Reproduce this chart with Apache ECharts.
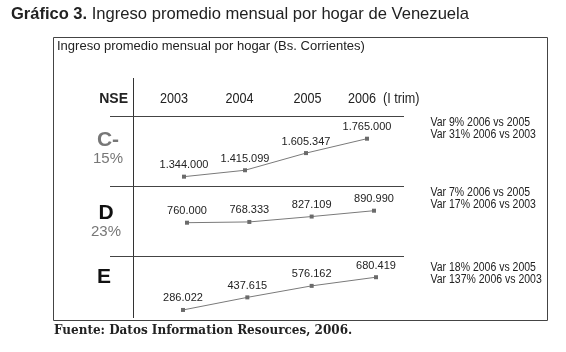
<!DOCTYPE html>
<html>
<head>
<meta charset="utf-8">
<script src="https://cdn.jsdelivr.net/npm/echarts@6/dist/echarts.min.js"></script>
<style>
  html, body { margin: 0; padding: 0; background: #fff; }
  #main { width: 566px; height: 352px; }
</style>
</head>
<body>
<div id="main"></div>
<script>
// datos
var years = ['2003', '2004', '2005', '2006'];
var yearLabels = ['2003', '2004', '2005', '2006  (I trim)'];
var nseNames = ['C-', 'D', 'E'];
var nseShare = ['15%', '23%', ''];
var ingresoC = [1344000, 1415099, 1605347, 1765000];
var ingresoD = [760000, 768333, 827109, 890990];
var ingresoE = [286022, 437615, 576162, 680419];
var varC = ['Var 9% 2006 vs 2005', 'Var 31% 2006 vs 2003'];
var varD = ['Var 7% 2006 vs 2005', 'Var 17% 2006 vs 2003'];
var varE = ['Var 18% 2006 vs 2005', 'Var 137% 2006 vs 2003'];

var SANS = '"Liberation Sans", Arial, sans-serif';

function fmt(v) {
    return String(v).replace(/\B(?=(\d{3})+(?!\d))/g, '.');
}

var myChart = echarts.init(document.getElementById('main'));

var grids = [
    {left: 184, width: 183, top: 116.5, height: 70},
    {left: 187, width: 187, top: 186.5, height: 70},
    {left: 183, width: 193, top: 256.5, height: 64}
];
var yRanges = [[1235000, 2011000], [391000, 1155200], [159000, 930000]];
var seriesData = [ingresoC, ingresoD, ingresoE];

var xAxes = [], yAxes = [], series = [];
for (var i = 0; i < 3; i++) {
    xAxes.push({type: 'category', gridIndex: i, data: years, boundaryGap: false, show: false});
    yAxes.push({type: 'value', gridIndex: i, min: yRanges[i][0], max: yRanges[i][1], show: false});
    series.push({
        name: nseNames[i],
        type: 'line',
        xAxisIndex: i,
        yAxisIndex: i,
        data: seriesData[i],
        symbol: 'rect',
        symbolSize: 4,
        itemStyle: {color: '#6b6b6b'},
        lineStyle: {color: '#7a7a7a', width: 1},
        label: {
            show: true,
            position: 'top',
            distance: 4,
            color: '#222',
            fontSize: 11,
            fontFamily: SANS,
            formatter: function (p) { return fmt(p.value); }
        },
        animation: false
    });
}

var graphics = [];
// titulo
graphics.push({
    type: 'text', left: 11, top: 6,
    style: {
        text: '{b|Gráfico 3.}{n| Ingreso promedio mensual por hogar de Venezuela}',
        rich: {
            b: {fontWeight: 'bold', fontSize: 16.5, fontFamily: SANS, fill: '#222'},
            n: {fontSize: 16.6, fontFamily: SANS, fill: '#222'}
        }
    }
});
// recuadro
graphics.push({
    type: 'rect', shape: {x: 53.5, y: 37.5, width: 494, height: 283},
    style: {fill: 'none', stroke: '#444', lineWidth: 1}
});
graphics.push({
    type: 'text', left: 57, top: 40,
    style: {text: 'Ingreso promedio mensual por hogar (Bs. Corrientes)', fontSize: 13, fontFamily: SANS, fill: '#222'}
});
// lineas de la tabla
graphics.push({type: 'line', shape: {x1: 133.5, y1: 78, x2: 133.5, y2: 318}, style: {stroke: '#333', lineWidth: 1}});
[116.5, 186.5, 256.5].forEach(function (y) {
    graphics.push({type: 'line', shape: {x1: 110, y1: y, x2: 404, y2: y}, style: {stroke: '#444', lineWidth: 1}});
});
// encabezado
graphics.push({
    type: 'text', x: 128, y: 99,
    style: {text: 'NSE', fontSize: 14, fontWeight: 'bold', fontFamily: SANS, fill: '#222', align: 'right', verticalAlign: 'middle'}
});
var headX = [174, 239.5, 307.5, 348];
yearLabels.forEach(function (t, k) {
    graphics.push({
        type: 'text', x: headX[k], y: 99, scaleX: 0.9,
        style: {text: t, fontSize: 14, fontFamily: SANS, fill: '#222', align: k < 3 ? 'center' : 'left', verticalAlign: 'middle'}
    });
});
// NSE
graphics.push({type: 'text', x: 108, y: 140, style: {text: nseNames[0], fontSize: 21, fontWeight: 'bold', fontFamily: SANS, fill: '#777', align: 'center', verticalAlign: 'middle'}});
graphics.push({type: 'text', x: 108, y: 159, style: {text: nseShare[0], fontSize: 15, fontFamily: SANS, fill: '#777', align: 'center', verticalAlign: 'middle'}});
graphics.push({type: 'text', x: 106, y: 213, style: {text: nseNames[1], fontSize: 21, fontWeight: 'bold', fontFamily: SANS, fill: '#111', align: 'center', verticalAlign: 'middle'}});
graphics.push({type: 'text', x: 106, y: 232, style: {text: nseShare[1], fontSize: 15, fontFamily: SANS, fill: '#777', align: 'center', verticalAlign: 'middle'}});
graphics.push({type: 'text', x: 104, y: 277, style: {text: nseNames[2], fontSize: 21, fontWeight: 'bold', fontFamily: SANS, fill: '#111', align: 'center', verticalAlign: 'middle'}});
// variaciones
[[varC, 116.5], [varD, 186.5], [varE, 261.5]].forEach(function (v) {
    graphics.push({
        type: 'text', x: 430.5, y: v[1], scaleX: 0.84,
        style: {text: v[0].join('\n'), fontSize: 12.5, lineHeight: 12.3, fontFamily: SANS, fill: '#222', verticalAlign: 'top'}
    });
});
// fuente
graphics.push({
    type: 'text', left: 54, top: 325,
    style: {text: 'Fuente: Datos Information Resources, 2006.', fontSize: 12, fontWeight: 'bold', fontFamily: '"DejaVu Serif", "Liberation Serif", serif', fill: '#222'}
});

var option = {
    animation: false,
    grid: grids,
    xAxis: xAxes,
    yAxis: yAxes,
    series: series,
    graphic: graphics
};
myChart.setOption(option);
</script>
</body>
</html>
